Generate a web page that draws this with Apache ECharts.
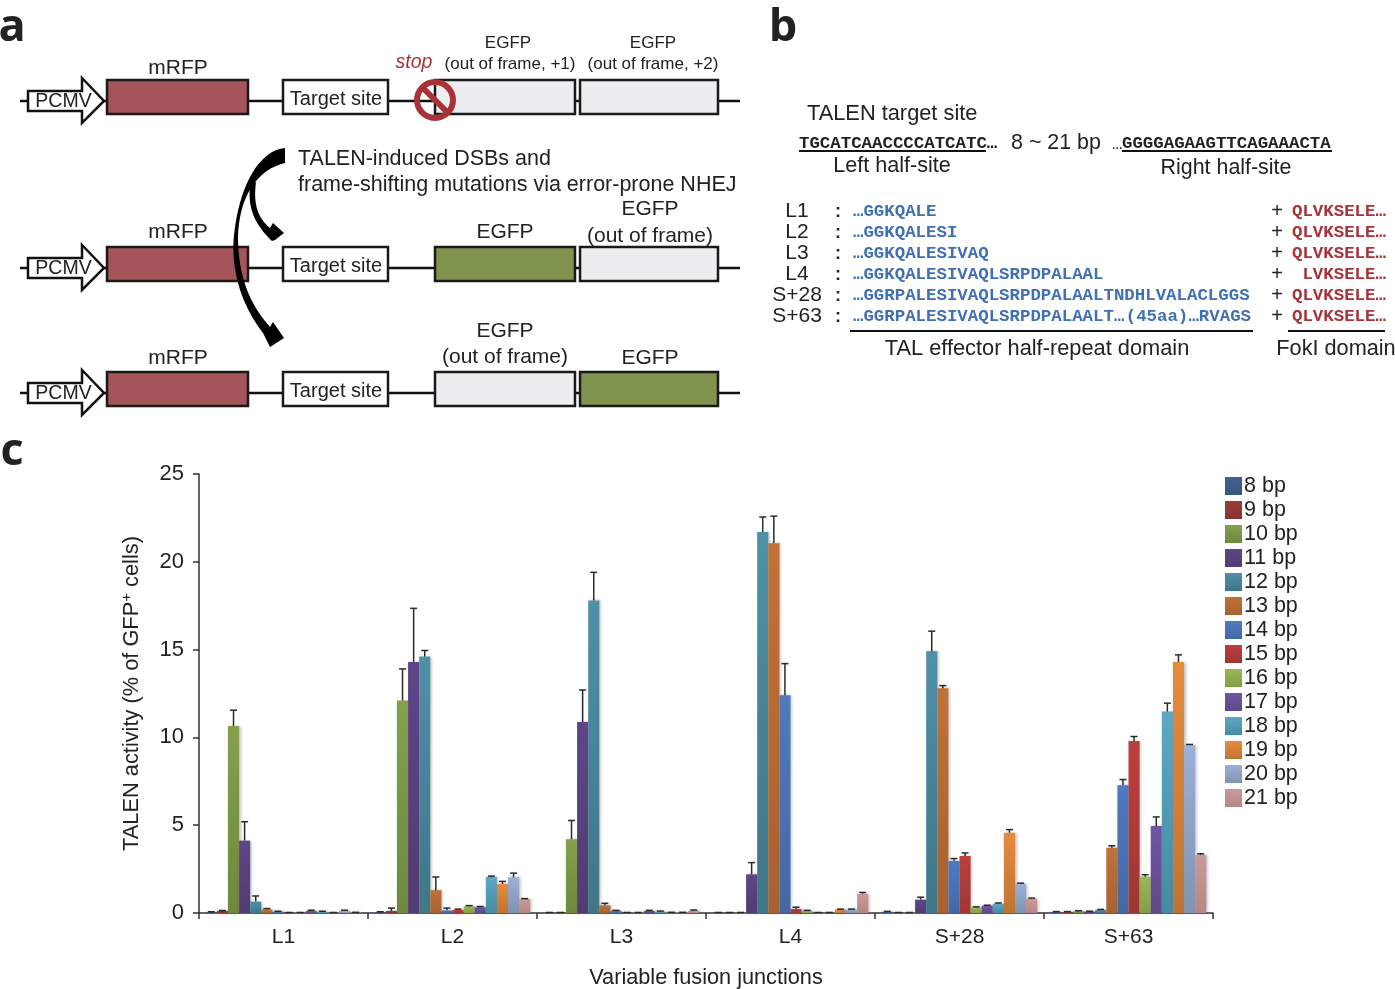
<!DOCTYPE html>
<html>
<head>
<meta charset="utf-8">
<style>html,body{margin:0;padding:0;background:#fff}#c{width:1395px;height:989px}</style>
<script src="https://cdn.jsdelivr.net/npm/echarts@6/dist/echarts.min.js"></script>
</head>
<body>
<div id="c"></div>
<script>
// ---------- chart data ----------
const categories = ['L1','L2','L3','L4','S+28','S+63'];
const spacers = ['8 bp','9 bp','10 bp','11 bp','12 bp','13 bp','14 bp','15 bp','16 bp','17 bp','18 bp','19 bp','20 bp','21 bp'];
const valuesL1  = [0.05,0.12,10.65,4.12,0.65,0.2,0.08,0.02,0.02,0.12,0.07,0.02,0.12,0.03];
const highsL1   = [0.07,0.14,11.55,5.2,0.97,0.25,0.1,0.03,0.03,0.16,0.1,0.03,0.16,0.04];
const valuesL2  = [0.05,0.12,12.1,14.3,14.6,1.3,0.15,0.17,0.38,0.33,2.05,1.65,2.03,0.8];
const highsL2   = [0.07,0.28,13.9,17.35,14.95,2.05,0.28,0.22,0.42,0.37,2.1,1.8,2.27,0.82];
const valuesL3  = [0.02,0.02,4.2,10.87,17.8,0.44,0.13,0.02,0.02,0.12,0.08,0.03,0.03,0.13];
const highsL3   = [0.03,0.03,5.27,12.7,19.4,0.55,0.15,0.03,0.03,0.15,0.11,0.04,0.04,0.17];
const valuesL4  = [0.02,0.02,0.02,2.2,21.7,21.05,12.4,0.23,0.12,0.02,0.02,0.2,0.2,1.1];
const highsL4   = [0.03,0.03,0.03,2.87,22.55,22.6,14.2,0.33,0.15,0.03,0.03,0.22,0.22,1.17];
const valuesS28 = [0.07,0.02,0.02,0.76,14.9,12.8,2.97,3.25,0.32,0.42,0.53,4.57,1.67,0.82];
const highsS28  = [0.09,0.03,0.03,0.9,16.05,12.95,3.1,3.42,0.35,0.44,0.57,4.75,1.7,0.85];
const valuesS63 = [0.06,0.06,0.1,0.08,0.17,3.72,7.27,9.8,2.07,4.95,11.47,14.3,9.57,3.3];
const highsS63  = [0.08,0.08,0.13,0.1,0.2,3.83,7.6,10.05,2.18,5.47,11.95,14.7,9.6,3.37];
const yTicks = [0,5,10,15,20,25];
const colorsTop = ['#41629A','#9C3A39','#85A04D','#5F4587','#4F90A8','#C07238','#4F7AC0','#BB403E','#98B855','#7056A5','#5BA8C5','#E58C3C','#9CB0D8','#CB9A98'];
const colorsBottom = ['#38567F','#873231','#6F8840','#523C72','#3F7688','#A76230','#4468A4','#9E3634','#839E48','#5F4888','#488AA3','#BF7434','#8093AE','#B58685'];

// ---------- schematic text ----------
const rowNames = ['L1','L2','L3','L4','S+28','S+63'];
const halfRepeats = ['…GGKQALE','…GGKQALESI','…GGKQALESIVAQ','…GGKQALESIVAQLSRPDPALAAL','…GGRPALESIVAQLSRPDPALAALTNDHLVALACLGGS','…GGRPALESIVAQLSRPDPALAALT…'];
const fokIParts = ['QLVKSELE…','QLVKSELE…','QLVKSELE…',' LVKSELE…','QLVKSELE…','QLVKSELE…'];

const allValues = [valuesL1,valuesL2,valuesL3,valuesL4,valuesS28,valuesS63];
const allHighs = [highsL1,highsL2,highsL3,highsL4,highsS28,highsS63];
const SANS = '"Liberation Sans", Arial, sans-serif';
const MONO = '"Liberation Mono", monospace';
const INK = '#222';

function txt(text, x, y, o) {
  o = o || {};
  return {type:'text', x, y, z:10, style:{text, fill:o.fill||INK, fontFamily:o.family||SANS,
    fontSize:o.size||20, fontWeight:o.weight||'normal', fontStyle:o.fontStyle||'normal',
    align:o.align||'center', verticalAlign:'middle'}};
}
function box(x, y, w, h, fill, lw) {
  return {type:'rect', z:5, shape:{x,y,width:w,height:h}, style:{fill, stroke:'#1a1a1a', lineWidth:lw||2.5}};
}
function hline(x1, x2, y, lw) {
  return {type:'line', z:3, shape:{x1,y1:y,x2,y2:y}, style:{stroke:'#111', lineWidth:lw||2.5}};
}
function promoter(cy) {
  return [
    {type:'polygon', z:5, shape:{points:[[28,cy-10],[82,cy-10],[82,cy-23],[104,cy],[82,cy+22],[82,cy+10],[28,cy+10]]},
      style:{fill:'#fff', stroke:'#111', lineWidth:2.5}},
    txt('PCMV', 63.5, cy+1, {size:19.5})
  ];
}
// flattens a path of straight and cubic segments into a polygon outline for the swoosh arrows
function outline(start, segs) {
  const pts=[start]; let p=start;
  segs.forEach(s=>{
    if (s.length===2) { pts.push(s); p=s; return; }
    for (let k=1;k<=24;k++){ const t=k/24,u=1-t;
      pts.push([u*u*u*p[0]+3*u*u*t*s[0]+3*u*t*t*s[2]+t*t*t*s[4],
                u*u*u*p[1]+3*u*u*t*s[1]+3*u*t*t*s[3]+t*t*t*s[5]]); }
    p=[s[4],s[5]];
  });
  return {type:'polygon', z:9, shape:{points:pts}, style:{fill:'#000'}};
}
const RED='#A5555A', GREEN='#7F924E', GRAY='#ECEDEF';
function row(cy, first, second) {
  return [hline(20,740,cy)].concat(promoter(cy),[
    box(107,cy-21,141,34,RED),
    box(283,cy-21,105,34,'#fff'),
    txt('Target site',336,cy-2,{size:20}),
    box(435,cy-21,140,34,first),
    box(580,cy-21,138,34,second)
  ]);
}
const graphics = [].concat(
  txt('a',12,28,{size:45,weight:'bold',family:'"Open Sans"'}),
  txt('b',783,28,{size:45,weight:'bold',family:'"Open Sans"'}),
  txt('c',12,452,{size:45,weight:'bold',family:'"Open Sans"'}),
  row(101,GRAY,GRAY), row(268,GREEN,GRAY), row(393,GRAY,GREEN),
  [
    txt('mRFP',178,68,{size:21}), txt('mRFP',178,232,{size:21}), txt('mRFP',178,358,{size:21}),
    txt('stop',414,63,{size:19.5,fill:'#A83238',fontStyle:'italic'}),
    txt('EGFP',508,43,{size:17}), txt('(out of frame, +1)',510,64,{size:17}),
    txt('EGFP',653,43,{size:17}), txt('(out of frame, +2)',653,64,{size:17}),
    txt('TALEN-induced DSBs and',298,159,{size:21.5,align:'left'}),
    txt('frame-shifting mutations via error-prone NHEJ',298,185,{size:21.5,align:'left'}),
    txt('EGFP',505,232,{size:21}), txt('EGFP',650,209,{size:21}), txt('(out of frame)',650,236,{size:21}),
    txt('EGFP',505,331,{size:21}), txt('(out of frame)',505,357,{size:21}), txt('EGFP',650,358,{size:21}),
    {type:'circle', z:8, shape:{cx:435,cy:100,r:18}, style:{fill:'none',stroke:'#A83238',lineWidth:6}},
    {type:'line', z:8, shape:{x1:422,y1:87,x2:448,y2:113}, style:{stroke:'#A83238',lineWidth:6}},
    outline([285,148],[[262,150,240,180,234,235],[230,275,245,310,263,333],[270,347],[284,338],[273,322],[270,327],[255,310,239,285,238,240],[238,200,255,170,285,163]]),
    outline([250,185],[[248,205,252,222,272,241],[275,240],[284,233],[273,223],[270,228],[258,218,253,205,256,182]]),

    txt('TALEN target site',807,114,{size:21.8,align:'left'}),
    txt('TGCATCAACCCCATCATC…',799,144,{size:17.4,family:MONO,weight:'bold',align:'left'}),
    hline(799,986,151,2),
    txt('8 ~ 21 bp',1056,143,{size:21.4}),
    txt('…',1112,144,{size:17.4,family:MONO,align:'left'}),
    txt('GGGGAGAAGTTCAGAAACTA',1122,144,{size:17.4,family:MONO,weight:'bold',align:'left'}),
    hline(1122,1332,151,2),
    txt('Left half-site',892,166,{size:21.6}),
    txt('Right half-site',1226,168,{size:21.4}),
    txt('(45aa)',1157,317,{size:17.4,family:MONO,weight:'bold',fill:'#3F6FB5'}),
    txt('…RVAGS',1251,317,{size:17.4,family:MONO,weight:'bold',fill:'#3F6FB5',align:'right'}),
    hline(850,1253,331,2),
    hline(1288,1385,331,2),
    txt('TAL effector half-repeat domain',1037,349,{size:21.8}),
    txt('FokI domain',1336,349,{size:21.7})
  ],
  rowNames.flatMap((name,i)=>{
    const y = 211 + 21*i;
    return [
      txt(name,797,y,{size:21}),
      txt(':',838,y+1,{size:18,weight:'bold'}),
      txt(halfRepeats[i],853,y+1,{size:17.4,family:MONO,weight:'bold',fill:'#3F6FB5',align:'left'}),
      txt('+',1277,y,{size:20}),
      txt(fokIParts[i],1292,y+1,{size:17.4,family:MONO,weight:'bold',fill:'#A83238',align:'left'})
    ];
  })
);

// ---------- chart ----------
const BAR_SHARE = 0.92;
const errData = [];
categories.forEach((c,ci)=>spacers.forEach((s,si)=>errData.push([ci,si,allHighs[ci][si],allValues[ci][si]])));

const barSeries = spacers.map((name,si)=>({
  name, type:'bar', barGap:0, barCategoryGap:'8%',
  data: categories.map((c,ci)=>allValues[ci][si]),
  itemStyle:{
    color:{type:'linear',x:0,y:0,x2:0,y2:1,colorStops:[{offset:0,color:colorsTop[si]},{offset:1,color:colorsBottom[si]}]},
    shadowColor:'rgba(0,0,0,0.25)',shadowBlur:3,shadowOffsetX:1.5
  }
}));

const errSeries = {
  type:'custom', name:'err', silent:true, z:4, clip:false,
  encode:{x:0,y:2},
  data:errData,
  renderItem(params, api){
    const cat=api.value(0), si=api.value(1), hi=api.value(2), v=api.value(3);
    const top=api.coord([cat,hi]), low=api.coord([cat,v]);
    const barW=api.size([1,0])[0]*BAR_SHARE/14;
    const x=top[0]+(si-6.5)*barW;
    const st={stroke:'#2a2a2a',lineWidth:1.5,fill:'none'};
    return {type:'group',children:[
      {type:'line',shape:{x1:x,y1:low[1],x2:x,y2:top[1]},style:st},
      {type:'line',shape:{x1:x-3.5,y1:top[1],x2:x+3.5,y2:top[1]},style:st}
    ]};
  }
};

const chart = echarts.init(document.getElementById('c'),null,{renderer:'canvas'});
chart.setOption({
  animation:false,
  backgroundColor:'#fff',
  textStyle:{fontFamily:SANS},
  grid:{left:199,top:474,width:1014,height:439,containLabel:false,outerBoundsMode:'none'},
  legend:{
    orient:'vertical', left:1225, top:475, padding:0, itemWidth:17, itemHeight:18, itemGap:2,
    data:spacers, icon:'rect', selectedMode:false,
    textStyle:{fontFamily:SANS,fontSize:21.5,color:INK,padding:[0,0,0,-3]}
  },
  xAxis:{
    type:'category', data:categories,
    name:'Variable fusion junctions', nameLocation:'middle', nameGap:54,
    nameTextStyle:{fontSize:21.7,color:INK,fontFamily:SANS},
    axisLine:{lineStyle:{color:'#333',width:1.5}},
    axisTick:{show:true,alignWithLabel:false,length:6,lineStyle:{color:'#333',width:1.5}},
    axisLabel:{color:INK,fontSize:21,margin:14,fontFamily:SANS}
  },
  yAxis:{
    type:'value', min:yTicks[0], max:yTicks[yTicks.length-1], interval:5,
    name:'{a|TALEN activity (% of GFP}{s|+}{a| cells)}', nameLocation:'middle', nameGap:55,
    nameTextStyle:{fontSize:21.8,color:INK,fontFamily:SANS,
      rich:{a:{fontSize:21.8,color:INK,fontFamily:SANS},s:{fontSize:15,color:INK,fontFamily:SANS,verticalAlign:'top',padding:[0,0,10,0]}}},
    splitLine:{show:false},
    axisLine:{show:true,lineStyle:{color:'#333',width:1.5}},
    axisTick:{show:true,length:6,lineStyle:{color:'#333',width:1.5}},
    axisLabel:{color:INK,fontSize:22,margin:15,fontFamily:SANS}
  },
  series:barSeries.concat([errSeries]),
  graphic:{elements:graphics}
});
</script>
</body>
</html>
